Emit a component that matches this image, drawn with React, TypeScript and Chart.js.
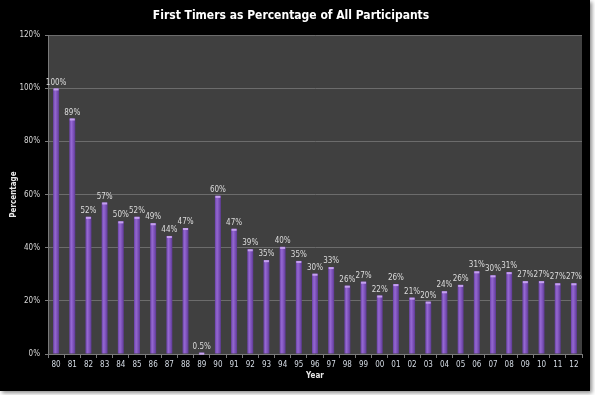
import React, { useEffect, useRef } from "react";
import { Chart, registerables } from "chart.js";

Chart.register(...registerables);

const years = ["80", "81", "82", "83", "84", "85", "86", "87", "88", "89", "90", "91", "92", "93", "94", "95", "96", "97", "98", "99", "00", "01", "02", "03", "04", "05", "06", "07", "08", "09", "10", "11", "12"];
const values = [99.9, 88.6, 51.6, 57.0, 49.9, 51.6, 49.2, 44.4, 47.4, 0.5, 59.5, 47.1, 39.4, 35.3, 40.3, 35.0, 30.2, 32.7, 25.7, 27.2, 22.0, 26.3, 21.2, 19.7, 23.6, 26.0, 31.1, 29.6, 30.8, 27.4, 27.4, 26.6, 26.6];
const valueLabels = ["100%", "89%", "52%", "57%", "50%", "52%", "49%", "44%", "47%", "0.5%", "60%", "47%", "39%", "35%", "40%", "35%", "30%", "33%", "26%", "27%", "22%", "26%", "21%", "20%", "24%", "26%", "31%", "30%", "31%", "27%", "27%", "27%", "27%"];
const yMin = 0;
const yMax = 120;
const yStep = 20;

const FONT = "'Liberation Sans Narrow', 'DejaVu Sans Condensed', 'Noto Sans', sans-serif";

const plotBg = {
  id: "plotBg",
  beforeDraw(chart: any) {
    const { ctx, chartArea } = chart;
    if (!chartArea) return;
    ctx.save();
    ctx.fillStyle = "#404040";
    ctx.fillRect(chartArea.left, chartArea.top, chartArea.right - chartArea.left, chartArea.bottom - chartArea.top);
    ctx.restore();
  },
};

const barExtras = {
  id: "barExtras",
  afterDatasetsDraw(chart: any) {
    const { ctx } = chart;
    const meta = chart.getDatasetMeta(0);
    ctx.save();
    meta.data.forEach((bar: any, i: number) => {
      const p = bar.getProps(["x", "y", "width"], true);
      ctx.fillStyle = "#c4a0ee";
      ctx.fillRect(p.x - p.width / 2 + 0.5, p.y, p.width - 1, 2);
      ctx.font = "8px " + FONT;
      ctx.fillStyle = "#dcdcdc";
      ctx.textAlign = "center";
      ctx.textBaseline = "bottom";
      ctx.fillText(valueLabels[i], p.x, p.y - 2);
    });
    ctx.restore();
  },
};

export default function App() {
  const ref = useRef<HTMLCanvasElement | null>(null);
  useEffect(() => {
    if (!ref.current) return;
    const chart = new Chart(ref.current, {
      type: "bar",
      data: {
        labels: years,
        datasets: [
          {
            data: values,
            barPercentage: 0.37,
            categoryPercentage: 1,
            backgroundColor: (c: any) => {
              const ch = c.chart;
              if (!ch.chartArea || c.dataIndex === undefined) return "#7d52b8";
              const x = ch.scales.x.getPixelForValue(c.dataIndex);
              const g = ch.ctx.createLinearGradient(x - 3, 0, x + 3, 0);
              g.addColorStop(0, "#6a42a6");
              g.addColorStop(0.35, "#9568d2");
              g.addColorStop(0.7, "#7a4fb6");
              g.addColorStop(1, "#5c3a92");
              return g;
            },
            borderWidth: 0,
          },
        ],
      },
      options: {
        animation: false,
        responsive: true,
        maintainAspectRatio: false,
        layout: { padding: { left: 0, right: 8, top: 0, bottom: 0 } },
        plugins: {
          legend: { display: false },
          tooltip: { enabled: false },
          title: {
            display: true,
            text: "First Timers as Percentage of All Participants",
            color: "#ffffff",
            font: { family: FONT, size: 12, weight: "bold" },
            padding: { top: 9, bottom: 11.6 },
          },
        },
        scales: {
          x: {
            grid: { display: true, drawOnChartArea: false, offset: true, tickLength: 4, color: "#7a7a7a" },
            border: { display: true, color: "#7a7a7a" },
            ticks: { color: "#d4dbe4", font: { family: FONT, size: 8 }, padding: 2, maxRotation: 0, autoSkip: false },
            title: { display: true, text: "Year", color: "#e8e8e8", font: { family: FONT, size: 8, weight: "bold" }, padding: { top: 0, bottom: 10 } },
            afterFit: (s: any) => { s.height = 37; },
          },
          y: {
            min: yMin,
            max: yMax,
            ticks: { stepSize: yStep, color: "#d8d8d8", font: { family: FONT, size: 8 }, padding: 5, callback: (v: any) => v + "%" },
            grid: { color: "#6c6c6c", tickLength: 3, tickColor: "#7a7a7a" },
            border: { display: true, color: "#7a7a7a" },
            title: { display: true, text: "Percentage", color: "#e8e8e8", font: { family: FONT, size: 8, weight: "bold" }, padding: { top: 9, bottom: 0 } },
            afterFit: (s: any) => { s.width = 48; },
          },
        },
      },
      plugins: [plotBg, barExtras],
    });
    return () => chart.destroy();
  }, []);
  return (
    <div style={{ position: "absolute", left: 0, top: 0, width: 595, height: 395, background: "#ffffff" }}>
      <div style={{ position: "absolute", left: 0, top: 0, width: 590, height: 391, background: "#000000", boxShadow: "2px 2px 4px rgba(0,0,0,0.45)" }}>
        <canvas ref={ref} />
      </div>
    </div>
  );
}
